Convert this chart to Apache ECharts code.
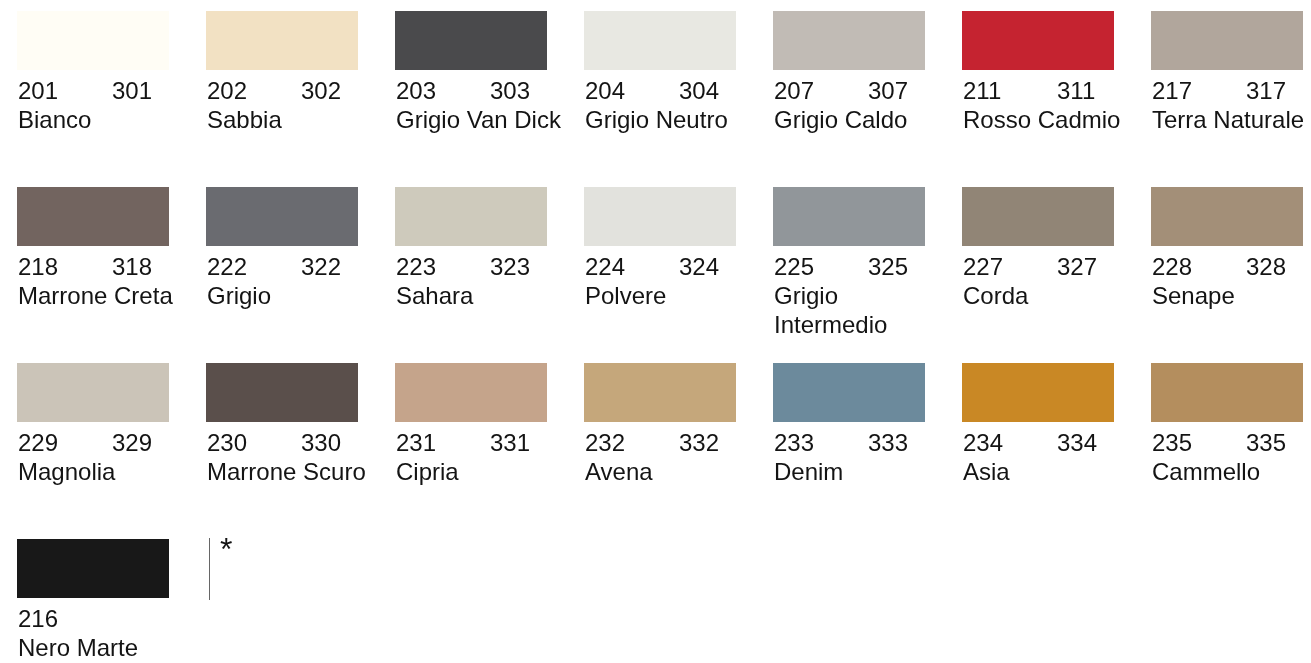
<!DOCTYPE html>
<html>
<head>
<meta charset="utf-8">
<script src="https://cdn.jsdelivr.net/npm/echarts@6/dist/echarts.min.js"></script>
<style>
html,body{margin:0;padding:0;background:#fff;}
#chart{width:1311px;height:663px;}
</style>
</head>
<body>
<div id="chart"></div>
<script>
const codes = ['201','202','203','204','207','211','217',
               '218','222','223','224','225','227','228',
               '229','230','231','232','233','234','235',
               '216'];
const codes2 = ['301','302','303','304','307','311','317',
                '318','322','323','324','325','327','328',
                '329','330','331','332','333','334','335',
                ''];
const names = ['Bianco','Sabbia','Grigio Van Dick','Grigio Neutro','Grigio Caldo','Rosso Cadmio','Terra Naturale',
               'Marrone Creta','Grigio','Sahara','Polvere','Grigio\nIntermedio','Corda','Senape',
               'Magnolia','Marrone Scuro','Cipria','Avena','Denim','Asia','Cammello',
               'Nero Marte'];
const colors = ['#fffdf5','#f2e1c3','#4a4a4c','#e8e8e2','#c1bbb5','#c52330','#b1a69c',
                '#72645f','#6a6b70','#cecabc','#e2e2dd','#91969a','#918576','#a38f78',
                '#cbc4b8','#5a4f4b','#c5a48b','#c5a77b','#6c8a9c','#c98825','#b48e5e',
                '#181818'];
const footnote = '*';
const perRow = 7;

const data = codes.map((c, i) => [i % perRow, Math.floor(i / perRow), i]);
const noteSlot = [[codes.length % perRow, Math.floor(codes.length / perRow)]];

const FONT = '24px "Liberation Sans", Arial, sans-serif';
const TXT = '#141414';

const chart = echarts.init(document.getElementById('chart'), null, {renderer: 'canvas'});
chart.setOption({
  backgroundColor: '#ffffff',
  animation: false,
  grid: {left: 17, top: 11, width: 1134, height: 528},
  xAxis: {type: 'value', min: 0, max: 6, show: false},
  yAxis: {type: 'value', min: 0, max: 3, inverse: true, show: false},
  series: [{
    type: 'custom',
    clip: false,
    data: data,
    renderItem: function (params, api) {
      const i = api.value(2);
      const p = api.coord([api.value(0), api.value(1)]);
      const children = [{
        type: 'rect',
        shape: {x: p[0], y: p[1], width: 152, height: 59},
        style: {fill: colors[i]}
      }, {
        type: 'text', x: p[0] + 1, y: p[1] + 81.2,
        style: {text: codes[i], font: FONT, fill: TXT, align: 'left', verticalAlign: 'middle'}
      }];
      if (codes2[i]) {
        children.push({
          type: 'text', x: p[0] + 95, y: p[1] + 81.2,
          style: {text: codes2[i], font: FONT, fill: TXT, align: 'left', verticalAlign: 'middle'}
        });
      }
      names[i].split('\n').forEach((ln, k) => {
        children.push({
          type: 'text', x: p[0] + 1, y: p[1] + 110.2 + k * 29,
          style: {text: ln, font: FONT, fill: TXT, align: 'left', verticalAlign: 'middle'}
        });
      });
      return {type: 'group', children: children};
    }
  }, {
    type: 'custom',
    clip: false,
    data: noteSlot,
    renderItem: function (params, api) {
      const p = api.coord([api.value(0), api.value(1)]);
      return {type: 'group', children: [{
        type: 'line',
        shape: {x1: p[0] + 3.5, y1: p[1] - 1, x2: p[0] + 3.5, y2: p[1] + 61},
        style: {stroke: '#666666', lineWidth: 1}
      }, {
        type: 'text', x: p[0] + 14, y: p[1] + 12,
        style: {text: footnote, font: '32px "Liberation Sans", Arial, sans-serif', fill: TXT, align: 'left', verticalAlign: 'middle'}
      }]};
    }
  }]
});
</script>
</body>
</html>
